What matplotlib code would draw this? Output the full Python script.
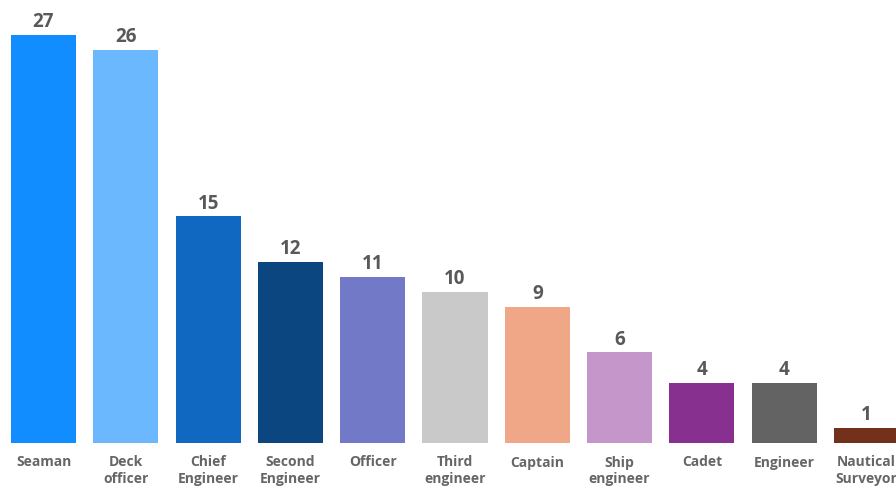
import matplotlib
matplotlib.use("Agg")
import matplotlib.pyplot as plt

categories = ["Seaman", "Deck\nofficer", "Chief\nEngineer", "Second\nEngineer", "Officer",
              "Third\nengineer", "Captain", "Ship\nengineer", "Cadet", "Engineer",
              "Nautical\nSurveyor"]
values = [27, 26, 15, 12, 11, 10, 9, 6, 4, 4, 1]
colors = ["#118DFF", "#6CB8FF", "#1068C0", "#0B4680", "#7279C6", "#C9C9C9",
          "#F0A787", "#C596C9", "#87308F", "#636363", "#73311C"]

plt.rcParams['font.family'] = ['Open Sans', 'DejaVu Sans']
fig = plt.figure(figsize=(8.96, 4.88), dpi=100)
ax = fig.add_axes([0, 45 / 488, 1, 1 - 45 / 488])

x = list(range(len(categories)))
bars = ax.bar(x, values, width=0.79, color=colors)
ax.set_xlim(-43.5 / 82.3, (896 - 43.5) / 82.3)
ax.set_ylim(0, 443 / 15.11)

for xi, v in zip(x, values):
    ax.annotate(str(v), (xi, v), xytext=(0, 2), textcoords="offset points",
                ha="center", va="bottom", fontsize=13.5, fontweight="bold", color="#595959")

ax.set_xticks(x)
ax.set_xticklabels(categories, fontsize=10, fontweight="bold", color="#666666", linespacing=1.25)
ax.tick_params(axis="x", length=0, pad=9)
ax.set_yticks([])
for s in ax.spines.values():
    s.set_visible(False)

fig.savefig("out.png", dpi=100)
